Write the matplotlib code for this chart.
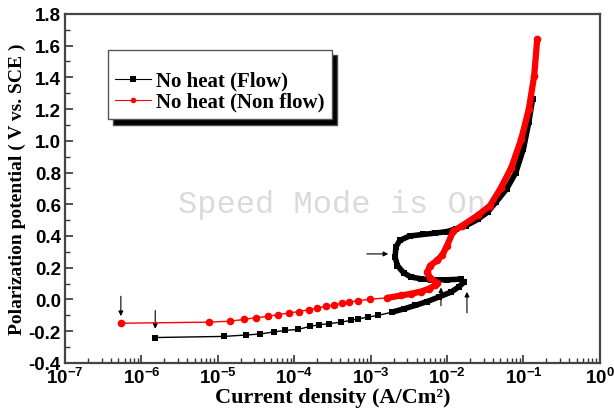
import numpy as np
import matplotlib
matplotlib.use("Agg")
import matplotlib.pyplot as plt
from matplotlib.ticker import LogLocator, FixedLocator, MultipleLocator, FuncFormatter, NullFormatter

plt.rcParams['mathtext.fontset'] = 'custom'
plt.rcParams['mathtext.rm'] = 'Liberation Sans:bold'
plt.rcParams['mathtext.it'] = 'Liberation Sans:bold'
plt.rcParams['mathtext.bf'] = 'Liberation Sans:bold'

# log10 of current density (A/cm2) and potential (V vs SCE)
flow_logi = [-5.82, -4.92, -4.63, -4.45, -4.27, -4.12, -3.95, -3.80, -3.68, -3.55,
             -3.39, -3.26, -3.16, -3.03, -2.90, -2.72, -2.57, -2.42, -2.26, -2.11,
             -1.95, -1.85, -1.78, -1.82, -2.00, -2.21, -2.34, -2.47, -2.57, -2.65,
             -2.68, -2.67, -2.62, -2.49, -2.31, -2.16, -2.00, -1.88, -1.75, -1.60,
             -1.47, -1.36, -1.22, -1.10, -1.00, -0.93, -0.88]
flow_e = [-0.240, -0.233, -0.224, -0.218, -0.205, -0.195, -0.189, -0.170, -0.160, -0.153,
          -0.143, -0.132, -0.122, -0.111, -0.100, -0.080, -0.060, -0.038, -0.013, 0.015,
          0.046, 0.078, 0.108, 0.128, 0.124, 0.124, 0.130, 0.141, 0.168, 0.214,
          0.267, 0.330, 0.372, 0.400, 0.410, 0.418, 0.428, 0.445, 0.466, 0.504,
          0.550, 0.613, 0.697, 0.800, 0.950, 1.118, 1.265]

nonflow_logi = [-6.27, -5.12, -4.84, -4.66, -4.50, -4.35, -4.21, -4.07, -3.94, -3.81,
                -3.70, -3.58, -3.48, -3.38, -3.29, -3.16, -3.01, -2.78, -2.60, -2.47,
                -2.34, -2.24, -2.16, -2.13, -2.22, -2.26, -2.22, -2.13, -2.06, -2.00,
                -1.92, -1.80, -1.60, -1.44, -1.30, -1.16, -1.03, -0.93, -0.86, -0.82]
nonflow_e = [-0.150, -0.143, -0.137, -0.126, -0.115, -0.107, -0.095, -0.086, -0.076, -0.065,
             -0.055, -0.042, -0.034, -0.025, -0.017, -0.008, 0.002, 0.010, 0.025, 0.036,
             0.050, 0.067, 0.088, 0.105, 0.134, 0.172, 0.214, 0.246, 0.282, 0.340,
             0.430, 0.466, 0.530, 0.590, 0.700, 0.830, 1.010, 1.200, 1.410, 1.640]

# arrow positions: (log10 i, start E, end E) for vertical ones
arrow_v = [(-6.27, 0.020, -0.105), (-5.82, -0.070, -0.185),
           (-1.74, -0.085, 0.048), (-2.08, -0.040, 0.075)]
arrow_h = [(-3.05, -2.77, 0.287)]

flow_i = 10 ** np.array(flow_logi)
nonflow_i = 10 ** np.array(nonflow_logi)

fig = plt.figure(figsize=(6.14, 4.14), dpi=100)
ax = fig.add_axes([0.106, 0.121, 0.871, 0.843])

ax.text(10 ** -5.52, 0.6, 'Speed Mode is On', family='Liberation Mono', fontsize=23,
        color='#dadada', va='center', ha='left', zorder=0)

ax.plot(flow_i, flow_e, '-s', color='black', lw=1.0, ms=5, markeredgewidth=0,
        label='No heat (Flow)', zorder=3)
ax.plot(flow_i[15:], flow_e[15:], '-', color='black', lw=4.0, solid_capstyle='round', zorder=3)
ax.plot(nonflow_i, nonflow_e, '-o', color='red', lw=1.0, ms=5.5, markeredgewidth=0,
        label='No heat (Non flow)', zorder=4)
ax.plot(nonflow_i[17:], nonflow_e[17:], '-', color='red', lw=4.5, solid_capstyle='round', zorder=4)

arr = dict(arrowstyle='-|>', color='black', lw=0.8, mutation_scale=7, shrinkA=0, shrinkB=0)
for lx, e0, e1 in arrow_v:
    ax.annotate('', xy=(10 ** lx, e1), xytext=(10 ** lx, e0), arrowprops=arr)
for lx0, lx1, e in arrow_h:
    ax.annotate('', xy=(10 ** lx1, e), xytext=(10 ** lx0, e), arrowprops=arr)

ax.set_xscale('log')
ax.set_xlim(1e-7, 1)
ax.set_ylim(-0.4, 1.8)
ax.xaxis.set_major_locator(FixedLocator([10.0 ** k for k in range(-7, 1)]))
ax.xaxis.set_major_formatter(FuncFormatter(lambda v, p: r'$10^{%d}$' % round(np.log10(v))))
ax.xaxis.set_minor_locator(LogLocator(base=10, subs=np.arange(2, 10), numticks=20))
ax.xaxis.set_minor_formatter(NullFormatter())
ax.yaxis.set_major_locator(MultipleLocator(0.2))
ax.yaxis.set_minor_locator(MultipleLocator(0.1))
ax.yaxis.set_major_formatter(FuncFormatter(lambda v, p: '%.1f' % v))

ax.tick_params(which='both', direction='in', top=False, right=False, color='#333333')
ax.tick_params(which='major', length=6, width=1.2, labelsize=13.5, pad=3)
ax.tick_params(which='minor', length=3.5, width=1.0)
for lab in ax.get_yticklabels():
    lab.set_family('Liberation Sans')
    lab.set_fontweight('bold')
for sp in ax.spines.values():
    sp.set_linewidth(1.6)
    sp.set_color('#444444')

ax.set_xlabel('Current density (A/Cm²)', family='Liberation Serif', fontweight='bold',
              fontsize=16, labelpad=0)
ax.set_ylabel('Polarization potential ( V vs. SCE )', family='Liberation Serif',
              fontweight='bold', fontsize=14, labelpad=2)

leg = ax.legend(loc='upper left', bbox_to_anchor=(0.08, 0.898), frameon=True,
                fancybox=False, shadow={'ox': 4, 'oy': -4, 'facecolor': 'black', 'alpha': 1},
                edgecolor='#555555', title=' ',
                prop={'family': 'Liberation Serif', 'weight': 'bold', 'size': 15},
                handlelength=1.7, handletextpad=0.25, borderpad=0.35, labelspacing=0.05,
                borderaxespad=0)
leg.get_title().set_fontsize(9)
leg.get_frame().set_linewidth(1.0)
for h in leg.legend_handles:
    h.set_markersize(4)
    h.set_linewidth(0.8)

fig.savefig('out.png', dpi=100)
